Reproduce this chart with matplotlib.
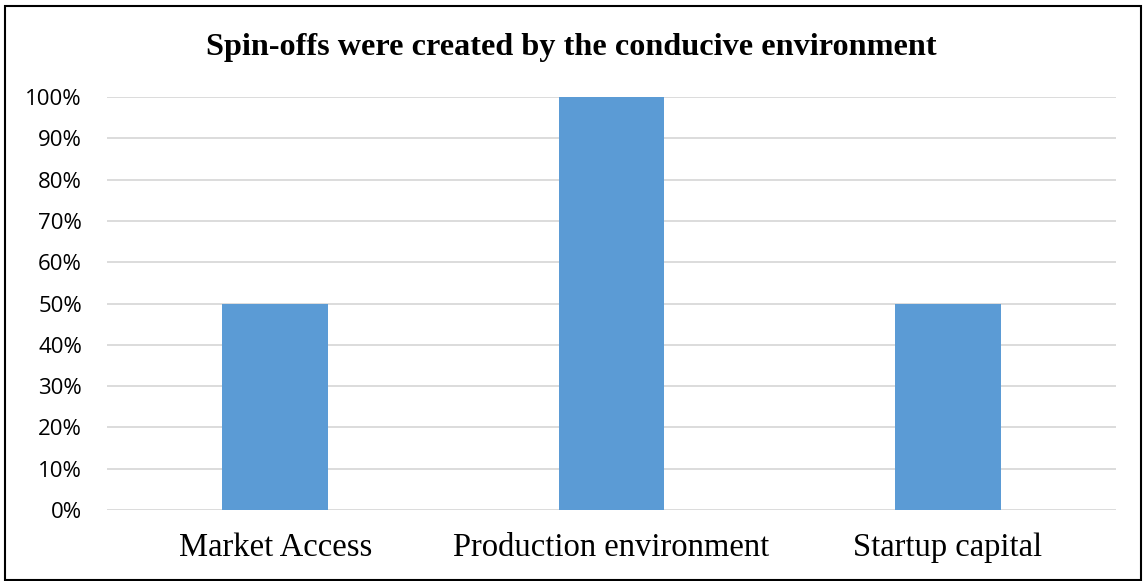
import matplotlib
matplotlib.use("Agg")
import matplotlib.pyplot as plt
from matplotlib.patches import Rectangle
from matplotlib.ticker import PercentFormatter

categorias = ["Market Access", "Production environment", "Startup capital"]
valores = [50, 100, 50]
marcas_y = list(range(0, 101, 10))

fig = plt.figure(figsize=(11.43, 5.81), dpi=100)
fig.patch.set_facecolor("white")
ax = fig.add_axes([107 / 1143, 1 - 510 / 581, 1009 / 1143, 413 / 581])

x = range(len(categorias))
ax.bar(x, valores, width=0.315, color="#5B9BD5", zorder=3)

ax.set_xlim(-0.5, len(categorias) - 0.5)
ax.set_ylim(0, 100)
ax.set_yticks(marcas_y)
ax.yaxis.set_major_formatter(PercentFormatter(decimals=0))
ax.set_xticks(list(x))
ax.set_xticklabels(categorias, family="Liberation Serif", fontsize=23.5)
for lab in ax.get_yticklabels():
    lab.set_family("Open Sans")
    lab.set_fontsize(16)

ax.grid(axis="y", color="#d9d9d9", linewidth=1.3, zorder=0)
ax.tick_params(axis="both", length=0)
ax.tick_params(axis="y", pad=18)
ax.tick_params(axis="x", pad=16)
for s in ax.spines.values():
    s.set_visible(False)

fig.text(0.5, 1 - 47 / 581, "Spin-offs were created by the conducive environment",
         ha="center", va="center", family="Liberation Serif",
         fontweight="bold", fontsize=23.2)

# marco del grafico
fig.patches.append(Rectangle((5 / 1143, 1 / 581), 1 - 7 / 1143, 1 - 7 / 581,
                             transform=fig.transFigure, fill=False,
                             edgecolor="black", linewidth=1.5))

fig.savefig("out.png", dpi=100, facecolor="white")
